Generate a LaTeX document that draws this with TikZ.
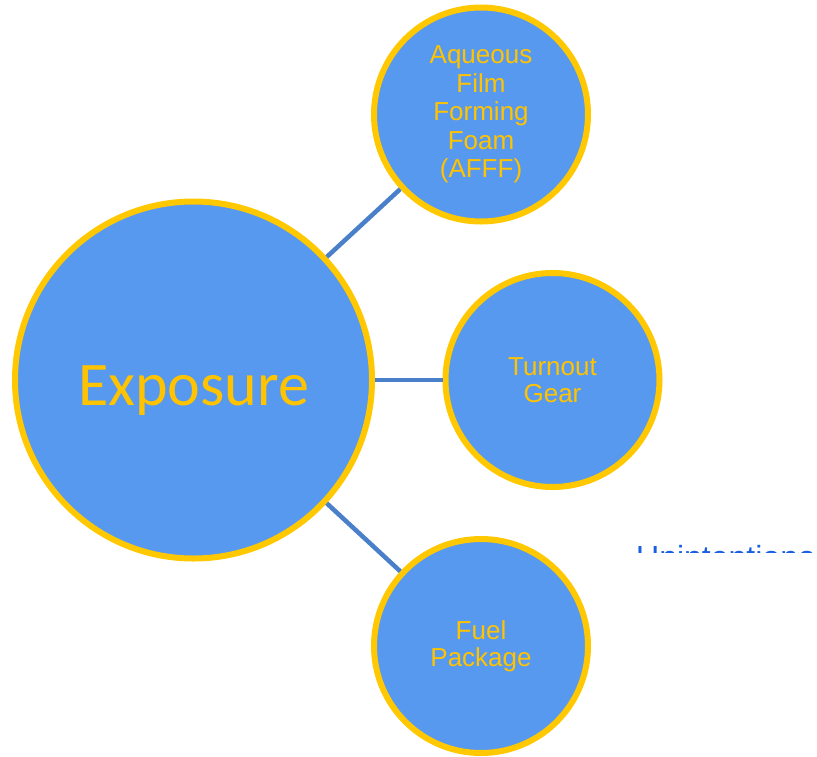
\documentclass[tikz,border=0pt]{standalone}
\usepackage{fontspec}
\setmainfont{Liberation Sans}
\newfontfamily\calib{Carlito}
\definecolor{circfill}{RGB}{88,153,240}
\definecolor{circborder}{RGB}{255,200,0}
\definecolor{txtyellow}{RGB}{255,195,0}
\definecolor{linkblue}{RGB}{74,127,202}
\definecolor{fragblue}{RGB}{26,95,224}
\tikzset{
  bubble/.style={circle, fill=circfill, draw=circborder, line width=6pt, inner sep=0pt, align=center, text=txtyellow},
  small/.style={bubble, minimum size=214pt, font=\fontsize{26}{27}\selectfont},
  link/.style={draw=linkblue, line width=4.5pt}
}
\begin{document}
\begin{tikzpicture}[x=1pt,y=-1pt]
\useasboundingbox (0,0) rectangle (817,756);
\begin{scope}
\clip (600,530) rectangle (817,552.5);
\node[anchor=base west, inner sep=0pt, text=fragblue, font=\fontsize{32}{34}\selectfont] (frag) at (636,568) {Unintentional};
\end{scope}
\node[bubble, minimum size=357pt, text height=50pt, text depth=0pt, font=\calib\fontsize{62}{64}\selectfont] (exp) at (193.5,380) {Exposure};
\node[small, font=\fontsize{26}{28.5}\selectfont] (afff) at (481,114.5) {Aqueous\\Film\\Forming\\Foam\\(AFFF)};
\node[small] (gear) at (552.5,380) {Turnout\\Gear};
\node[small] (fuel) at (481,646) {Fuel\\Package};
\draw[link] (exp) -- (afff);
\draw[link] (exp) -- (gear);
\draw[link] (exp) -- (fuel);
\end{tikzpicture}
\end{document}
